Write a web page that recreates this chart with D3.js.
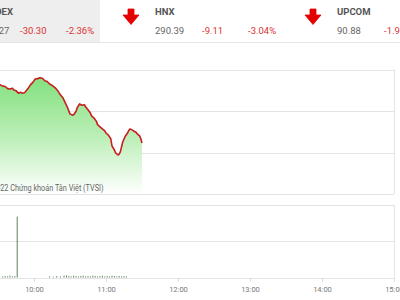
<!DOCTYPE html>
<html>
<head>
<meta charset="utf-8">
<script src="https://cdn.jsdelivr.net/npm/d3@7"></script>
<style>
  body { margin: 0; background: #fff; overflow: hidden; }
  svg { display: block; font-family: Roboto, "Noto Sans", sans-serif; }
</style>
</head>
<body>
<svg id="chart" width="400" height="300"></svg>
<script>
//////////////////////////////////////////////////////////////
///////////////////////// Data ///////////////////////////////
//////////////////////////////////////////////////////////////

// Header boards
var indexNames = ["VNINDEX", "HNX", "UPCOM"];
var indexValues = ["1,253.27", "290.39", "90.88"];
var indexChanges = ["-30.30", "-9.11", "-1.97"];
var indexPercents = ["-2.36%", "-3.04%", "-2.12%"];

// Intraday index line
var lineTimes = ["9:15","9:23","9:32","9:34","9:36","9:38","9:40","9:42","9:43","9:45","9:47","9:49","9:50","9:52","9:53","9:55","9:57","9:59",
                 "10:01","10:03","10:05","10:07","10:09","10:11","10:13","10:15","10:18","10:20","10:22","10:24","10:26","10:28","10:30","10:32","10:33","10:35","10:36",
                 "10:38","10:40","10:42","10:43","10:45","10:47","10:48","10:50","10:52","10:53","10:55","10:57","10:59","11:00","11:02","11:04","11:05",
                 "11:07","11:08","11:10","11:11","11:12","11:14","11:16","11:18","11:19","11:20","11:22","11:23","11:25","11:26","11:28","11:29","11:30"];
var lineValues = [1267.5,1266.8,1266.3,1266.0,1265.9,1265.4,1265.3,1265.5,1265.1,1264.9,1264.3,1264.5,1264.3,1264.4,1264.7,1265.4,1266.3,1266.9,
                  1267.7,1267.8,1268.0,1267.9,1267.3,1267.1,1266.5,1266.2,1265.5,1264.8,1263.9,1263.2,1262.0,1260.8,1259.3,1259.0,1259.1,1259.9,1260.8,
                  1261.7,1261.4,1261.5,1261.0,1260.3,1259.5,1258.8,1258.3,1257.5,1256.7,1256.2,1255.7,1255.2,1254.7,1254.2,1253.3,1251.6,
                  1250.6,1249.9,1249.4,1249.6,1250.2,1252.6,1253.9,1254.7,1255.3,1255.7,1255.4,1255.2,1254.9,1254.5,1254.0,1253.3,1252.3];

// Matched volume (million shares)
var volTimes = ["9:34","9:36","9:38","9:40","9:42","9:44","9:46",
                "10:13","10:16","10:19","10:22","10:25","10:27","10:29","10:31","10:33","10:35",
                "10:37","10:39","10:41","10:43","10:45","10:47","10:49","10:51","10:53","10:55",
                "10:57","10:59","11:01","11:03","11:05","11:07","11:09","11:11","11:13","11:15","11:17"];
var volValues = [0.03,0.04,0.03,0.05,0.03,0.04,1.68,
                 0.03,0.02,0.04,0.03,0.05,0.06,0.04,0.03,0.05,0.04,
                 0.03,0.04,0.05,0.03,0.04,0.03,0.05,0.04,0.03,0.04,
                 0.05,0.03,0.04,0.03,0.05,0.04,0.03,0.04,0.03,0.04,0.03];

var xTicks = ["10:00","11:00","12:00","13:00","14:00","15:00"];
var copyright = "©2022 Chứng khoán Tân Việt (TVSI)";

//////////////////////////////////////////////////////////////
///////////////////// General settings ///////////////////////
//////////////////////////////////////////////////////////////

var parseTime = d3.timeParse("%H:%M");
var svg = d3.select("#chart");

var plotLeft = -38, plotRight = 394;
var priceTop = 69.5, priceBottom = 194;
var volTop = 205, volBottom = 277.5;

var xScale = d3.scaleTime()
    .domain([parseTime("9:00"), parseTime("15:00")])
    .range([plotLeft, plotRight]);

var yScale = d3.scaleLinear().domain([1240, 1270]).range([priceBottom, priceTop]);
var yVol = d3.scaleLinear().domain([0, 2]).range([volBottom, volTop]);

//////////////////////////////////////////////////////////////
////////////////////////// Header ////////////////////////////
//////////////////////////////////////////////////////////////

svg.append("rect")
    .attr("x", 0).attr("y", 0)
    .attr("width", 100).attr("height", 42)
    .attr("fill", "#eeeeee");

svg.append("line")
    .attr("x1", 0).attr("x2", 400)
    .attr("y1", 42.5).attr("y2", 42.5)
    .attr("stroke", "#e6e6e6");

var boards = svg.selectAll(".board")
    .data(indexNames).enter()
    .append("g")
        .attr("class", "board")
        .attr("transform", function(d,i) { return "translate(" + (-27 + i*182) + ",0)"; });

//down arrows
boards.append("path")
    .attr("d", "M-27,9 L-21,9 L-21,15 L-16,15 L-24,24.5 L-32,15 L-27,15 Z")
    .attr("fill", "#e30000")
    .attr("stroke", "#e30000")
    .attr("stroke-width", 0.8)
    .attr("stroke-linejoin", "round");

boards.append("text")
    .attr("x", 0).attr("y", 15)
    .style("font-size", "9.5px")
    .style("font-weight", "bold")
    .style("fill", "#555")
    .text(function(d) { return d; });

boards.append("text")
    .attr("x", 0).attr("y", 33.5)
    .style("font-size", "9.5px")
    .style("fill", "#666")
    .text(function(d,i) { return indexValues[i]; });

boards.append("text")
    .attr("x", 47).attr("y", 33.5)
    .style("font-size", "9.5px")
    .style("fill", "#d33")
    .text(function(d,i) { return indexChanges[i]; });

boards.append("text")
    .attr("x", 93).attr("y", 33.5)
    .style("font-size", "9.5px")
    .style("fill", "#d33")
    .text(function(d,i) { return indexPercents[i]; });

//////////////////////////////////////////////////////////////
/////////////////////// Price chart //////////////////////////
//////////////////////////////////////////////////////////////

var defs = svg.append("defs");
var grad = defs.append("linearGradient")
    .attr("id", "greenFade")
    .attr("gradientUnits", "userSpaceOnUse")
    .attr("x1", 0).attr("x2", 0)
    .attr("y1", priceTop).attr("y2", priceBottom);
grad.append("stop").attr("offset", "0").attr("stop-color", "#7bdf77");
grad.append("stop").attr("offset", "0.55").attr("stop-color", "#bdefb8");
grad.append("stop").attr("offset", "1").attr("stop-color", "#ffffff");

//gridlines
svg.selectAll(".gridPrice")
    .data(yScale.ticks(3)).enter()
    .append("line")
        .attr("class", "gridPrice")
        .attr("x1", plotLeft).attr("x2", plotRight)
        .attr("y1", function(d) { return Math.round(yScale(d)) + 0.5; })
        .attr("y2", function(d) { return Math.round(yScale(d)) + 0.5; })
        .attr("stroke", "#e3e3e3");

svg.append("line")
    .attr("x1", plotRight + 0.5).attr("x2", plotRight + 0.5)
    .attr("y1", priceTop).attr("y2", priceBottom)
    .attr("stroke", "#e3e3e3");

var linePoints = lineTimes.map(function(t,i) { return {time: parseTime(t), value: lineValues[i]}; });

var area = d3.area()
    .x(function(d) { return xScale(d.time); })
    .y0(priceBottom)
    .y1(function(d) { return yScale(d.value); });

var line = d3.line()
    .x(function(d) { return xScale(d.time); })
    .y(function(d) { return yScale(d.value); });

svg.append("path")
    .datum(linePoints)
    .attr("d", area)
    .attr("fill", "url(#greenFade)");

svg.append("path")
    .datum(linePoints)
    .attr("d", line)
    .attr("fill", "none")
    .attr("stroke", "#c81e1e")
    .attr("stroke-width", 1.6)
    .attr("stroke-linejoin", "round");

svg.append("text")
    .attr("transform", "translate(103.5,191) scale(0.88,1)")
    .attr("text-anchor", "end")
    .style("font-size", "8.3px")
    .style("fill", "#666")
    .text(copyright);

//////////////////////////////////////////////////////////////
/////////////////////// Volume chart /////////////////////////
//////////////////////////////////////////////////////////////

svg.selectAll(".gridVol")
    .data(yVol.ticks(2)).enter()
    .append("line")
        .attr("class", "gridVol")
        .attr("x1", plotLeft).attr("x2", plotRight)
        .attr("y1", function(d) { return Math.round(yVol(d)) + 0.5; })
        .attr("y2", function(d) { return Math.round(yVol(d)) + 0.5; })
        .attr("stroke", "#e3e3e3");

svg.append("line")
    .attr("x1", plotRight + 0.5).attr("x2", plotRight + 0.5)
    .attr("y1", volTop).attr("y2", volBottom)
    .attr("stroke", "#e3e3e3");

svg.selectAll(".volBar")
    .data(volTimes).enter()
    .append("rect")
        .attr("class", "volBar")
        .attr("x", function(d) { return xScale(parseTime(d)) - 0.5; })
        .attr("width", 1)
        .attr("y", function(d,i) { return yVol(volValues[i]); })
        .attr("height", function(d,i) { return yVol(0) - yVol(volValues[i]); })
        .attr("fill", "#5f7f5f");

//x axis
var xAxis = d3.axisBottom(xScale)
    .tickValues(xTicks.map(parseTime))
    .tickFormat(d3.timeFormat("%H:%M"))
    .tickSize(4)
    .tickSizeOuter(0);

var gx = svg.append("g")
    .attr("transform", "translate(0," + (volBottom + 0.5) + ")")
    .call(xAxis);

gx.select(".domain").remove();
gx.selectAll(".tick line").attr("stroke", "#ddd");
gx.selectAll(".tick text")
    .attr("dy", "0.95em")
    .style("font-size", "7.5px")
    .style("font-family", "Roboto, sans-serif")
    .style("fill", "#777");
</script>
</body>
</html>
